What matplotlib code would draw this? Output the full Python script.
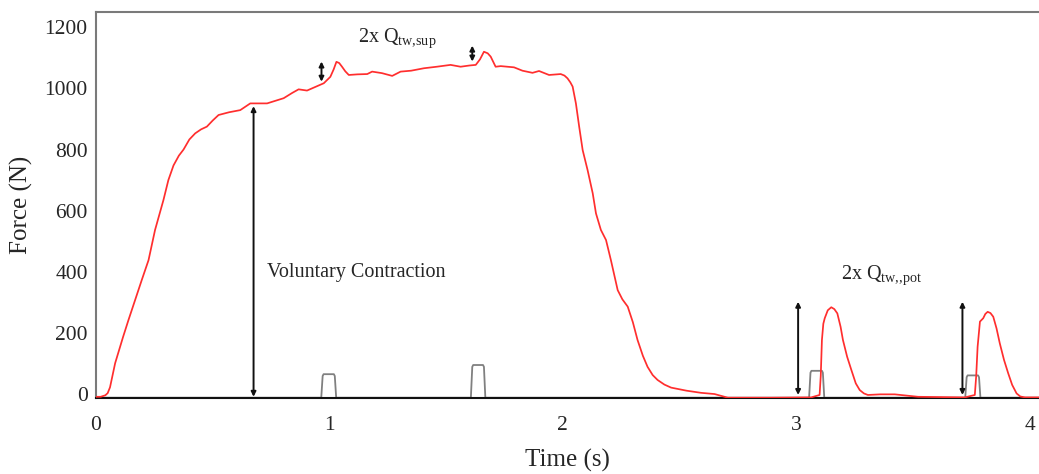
import matplotlib
matplotlib.use("Agg")
import matplotlib.pyplot as plt
import numpy as np

# ---- data ----
force_t = [0.0, 0.02, 0.04, 0.05, 0.06, 0.082, 0.116, 0.139, 0.196, 0.225, 0.253, 0.289,
           0.31, 0.332, 0.355, 0.375, 0.4, 0.425, 0.45, 0.475, 0.5, 0.525, 0.57, 0.618, 0.661,
           0.733, 0.804, 0.84, 0.868, 0.904, 0.94, 0.976, 1.004, 1.018, 1.03, 1.042,
           1.054, 1.068, 1.083, 1.12, 1.162, 1.183, 1.225, 1.269, 1.305, 1.35, 1.405,
           1.46, 1.519, 1.562, 1.6, 1.627, 1.645, 1.662, 1.678, 1.691, 1.712, 1.734,
           1.791, 1.827, 1.87, 1.898, 1.941, 1.991, 2.007, 2.02, 2.032, 2.042, 2.056,
           2.07, 2.085, 2.106, 2.128, 2.142, 2.163, 2.185, 2.206, 2.235, 2.255, 2.278,
           2.3, 2.32, 2.343, 2.363, 2.385, 2.406, 2.435, 2.464, 2.53, 2.592, 2.65, 2.707,
           2.893, 3.064, 3.1, 3.105, 3.11, 3.116, 3.122, 3.135, 3.15, 3.163, 3.176,
           3.19, 3.2, 3.218, 3.236, 3.255, 3.272, 3.29, 3.307, 3.36, 3.422, 3.522, 3.722,
           3.765, 3.771, 3.777, 3.787, 3.801, 3.81, 3.82, 3.832, 3.844, 3.858, 3.872,
           3.89, 3.908, 3.925, 3.944, 3.96, 3.98, 4.047]
force_n = [-9, -9, -4, 3, 22, 101, 187, 242, 373, 438, 537, 635,
           700, 748, 780, 800, 833, 853, 866, 875, 895, 913, 922, 929, 951,
           951, 968, 985, 997, 993, 1005, 1017, 1038, 1062, 1087, 1083,
           1071, 1056, 1044, 1046, 1047, 1055, 1050, 1041, 1055, 1058, 1066,
           1071, 1077, 1071, 1075, 1077, 1095, 1120, 1115, 1104, 1071, 1073,
           1069, 1058, 1051, 1057, 1044, 1047, 1042, 1033, 1020, 1006, 951,
           875, 798, 733, 657, 591, 537, 504, 438, 340, 310, 286,
           235, 177, 125, 89, 62, 46, 31, 21, 11, 4, 0, -12,
           -12, -11, -3, 60, 177, 230, 248, 274, 284, 278, 264,
           220, 177, 122, 79, 35, 13, 2, -3, -1, -1, -9, -11,
           -3, 60, 155, 237, 248, 262, 269, 265, 253, 215, 166,
           112, 68, 30, 2, -8, -11, -11]

pulse_start = [0.971, 1.612, 3.061, 3.730]
pulse_end = [1.023, 1.662, 3.114, 3.783]
pulse_height = [65, 95, 76, 61]

arrow_t = [0.675, 0.966, 1.612, 3.008, 3.712]
arrow_lo = [-9, 1022, 1088, -3, -3]
arrow_hi = [942, 1088, 1140, 302, 302]

labels_text = ["Voluntary Contraction", "2x Q$_{\\mathregular{tw{,}sup}}$", "2x Q$_{\\mathregular{tw{,}{,}pot}}$"]
labels_t = [0.734, 1.124, 3.19]
labels_f = [397, 1165, 390]

x_ticks = [0, 1, 2, 3, 4]
y_ticks = [0, 200, 400, 600, 800, 1000, 1200]

# ---- style ----
plt.rcParams['font.family'] = ['Liberation Serif', 'DejaVu Serif']
plt.rcParams['mathtext.fontset'] = 'custom'
plt.rcParams['mathtext.rm'] = 'Liberation Serif'
text_col = '#262626'

fig = plt.figure(figsize=(10.39, 4.74), dpi=100)
ax = fig.add_axes([0.0924, 0.1603, 0.9076, 0.815])

# stimulus trace (gray)
base = -12
st_t, st_f = [0.0], [base]
for s, e, h in zip(pulse_start, pulse_end, pulse_height):
    st_t += [s - 0.006, s, s + 0.004, e - 0.004, e, e + 0.006]
    st_f += [base, h - 6, h, h, h - 6, base]
st_t.append(4.05)
st_f.append(base)
ax.plot(st_t, st_f, color='#808080', lw=1.3, zorder=2)

# force trace (red)
ax.plot(force_t, force_n, color='#ff2e2e', lw=1.25, zorder=3)

# arrows
for t, lo, hi in zip(arrow_t, arrow_lo, arrow_hi):
    ax.annotate('', xy=(t, hi), xytext=(t, lo),
                arrowprops=dict(arrowstyle='<|-|>', color='#111111', lw=1.4,
                                mutation_scale=7, shrinkA=0, shrinkB=0))

for txt, t, f in zip(labels_text, labels_t, labels_f):
    ax.text(t, f, txt, fontsize=14.5, color=text_col, ha='left', va='center')

ax.set_xlim(0, 4.04)
ax.set_ylim(-13, 1251)
ax.set_xticks(x_ticks)
ax.set_yticks(y_ticks)
ax.tick_params(length=0, labelsize=15.5, colors=text_col)
ax.tick_params(axis='y', pad=6)
ax.tick_params(axis='x', pad=13)

ax.spines['right'].set_visible(False)
for s in ['left', 'top']:
    ax.spines[s].set_color('#7a7a7a')
    ax.spines[s].set_linewidth(1.5)
ax.spines['bottom'].set_color('#111111')
ax.spines['bottom'].set_linewidth(1.5)

ax.set_xlabel('Time (s)', fontsize=18, color=text_col, labelpad=10)
ax.set_ylabel('Force (N)', fontsize=18, color=text_col, labelpad=8)

fig.savefig('out.png', dpi=100)
